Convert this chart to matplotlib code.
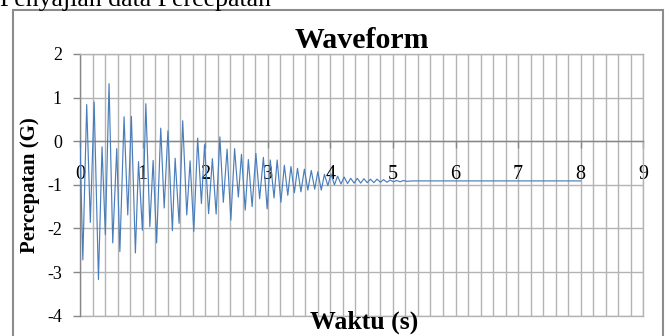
import matplotlib
matplotlib.use("Agg")
import matplotlib.pyplot as plt
from matplotlib.ticker import MultipleLocator
from matplotlib.patches import Rectangle

# Waveform extremes (time in s, acceleration in G)
waktu = [0.000, 0.045, 0.107, 0.165, 0.226, 0.295, 0.352, 0.405, 0.464, 0.523,
         0.587, 0.637, 0.704, 0.763, 0.821, 0.885, 0.935, 0.997, 1.052, 1.116,
         1.168, 1.224, 1.290, 1.345, 1.405, 1.476, 1.520, 1.583, 1.641, 1.706,
         1.759, 1.818, 1.880, 1.940, 1.990, 2.055, 2.115, 2.175, 2.235, 2.290,
         2.350, 2.410, 2.470, 2.530, 2.580, 2.640, 2.690, 2.750, 2.810, 2.870,
         2.930, 2.990, 3.040, 3.100, 3.150, 3.210, 3.265, 3.320, 3.370, 3.425,
         3.475, 3.530, 3.585, 3.640, 3.695, 3.750, 3.800, 3.855, 3.905, 3.960,
         4.010, 4.065, 4.115, 4.170, 4.220, 4.275, 4.325, 4.380, 4.430, 4.485,
         4.535, 4.590, 4.640, 4.695, 4.745, 4.800, 4.850, 4.905, 4.955, 5.010,
         5.060, 5.115, 5.165, 5.220, 5.300, 6.000, 7.000, 8.000]
percepatan = [0.00, -2.72, 0.84, -1.86, 0.90, -3.17, -0.13, -2.14, 1.32, -2.33,
              -0.17, -2.53, 0.56, -1.69, 0.57, -2.56, -0.47, -2.04, 0.86, -1.96,
              -0.44, -2.33, 0.30, -1.53, 0.24, -2.05, -0.39, -1.88, 0.47, -1.69,
              -0.45, -2.07, 0.07, -1.43, -0.08, -1.66, -0.40, -1.67, 0.10, -1.40,
              -0.18, -1.81, -0.17, -1.28, -0.30, -1.58, -0.42, -1.50, -0.28, -1.32,
              -0.37, -1.55, -0.43, -1.30, -0.43, -1.40, -0.55, -1.24, -0.58, -1.18,
              -0.62, -1.16, -0.64, -1.12, -0.67, -1.10, -0.70, -1.12, -0.76, -1.02,
              -0.75, -1.00, -0.80, -0.98, -0.82, -0.97, -0.85, -0.96, -0.85, -0.96,
              -0.86, -0.95, -0.87, -0.95, -0.87, -0.94, -0.88, -0.94, -0.89, -0.93,
              -0.90, -0.93, -0.90, -0.92, -0.91, -0.91, -0.91, -0.91]

x_ticks = [0, 1, 2, 3, 4, 5, 6, 7, 8, 9]
y_ticks = [-4, -3, -2, -1, 0, 1, 2]

FONT = "Liberation Serif"
plt.rcParams["font.family"] = [FONT, "DejaVu Serif"]

fig = plt.figure(figsize=(6.67, 3.36), dpi=100)
ax = fig.add_axes([80 / 667, 20.3 / 336, 563.3 / 667, 261.7 / 336])

grid_c = "#b3b3b3"
axis_c = "#878787"

ax.plot(waktu, percepatan, color="#4a7ebb", lw=0.85, zorder=3)

ax.set_xlim(0, 9)
ax.set_ylim(-4, 2)
ax.set_xticks(x_ticks)
ax.set_yticks(y_ticks)
ax.xaxis.set_minor_locator(MultipleLocator(0.2))
ax.grid(True, which="major", axis="both", color=grid_c, lw=1.0, zorder=0)
ax.grid(True, which="minor", axis="x", color=grid_c, lw=1.0, zorder=0)
ax.set_axisbelow(True)

for s in ["top", "right"]:
    ax.spines[s].set_color(grid_c)
    ax.spines[s].set_linewidth(1.0)
ax.spines["left"].set_color(axis_c)
ax.spines["left"].set_linewidth(1.0)
ax.spines["bottom"].set_position(("data", 0))
ax.spines["bottom"].set_color(axis_c)
ax.spines["bottom"].set_linewidth(1.0)
ax.axhline(-4, color=grid_c, lw=1.0, clip_on=False, zorder=1)

ax.tick_params(axis="x", which="major", direction="out", length=5, width=1.0,
               color=axis_c, pad=12, labelsize=14.5)
ax.tick_params(axis="x", which="minor", length=0)
ax.tick_params(axis="y", which="major", direction="out", length=5, width=1.0,
               color=axis_c, pad=8, labelsize=13)
ax.set_xticklabels([str(v) for v in x_ticks])
ax.set_yticklabels([str(v) for v in y_ticks])

ax.set_title("Waveform", fontsize=21.5, fontweight="bold", pad=2)
ax.set_ylabel("Percepatan (G)", fontsize=15, fontweight="bold")
ax.yaxis.set_label_coords(-0.071, 0.5)
fig.text(364 / 667, 1 - 329 / 336, "Waktu (s)", fontsize=18.5, fontweight="bold",
         ha="center", va="baseline")

fig.text(0.0, 1 - 6 / 336, "Penyajian data Percepatan", fontsize=18.5,
         ha="left", va="baseline")

fig.patches.append(Rectangle((13 / 667, -0.1), 650 / 667, 1.1 - 10 / 336,
                             transform=fig.transFigure, fill=False,
                             edgecolor="#8c8c8c", lw=1.5, clip_on=False))

fig.savefig("out.png", dpi=100)
